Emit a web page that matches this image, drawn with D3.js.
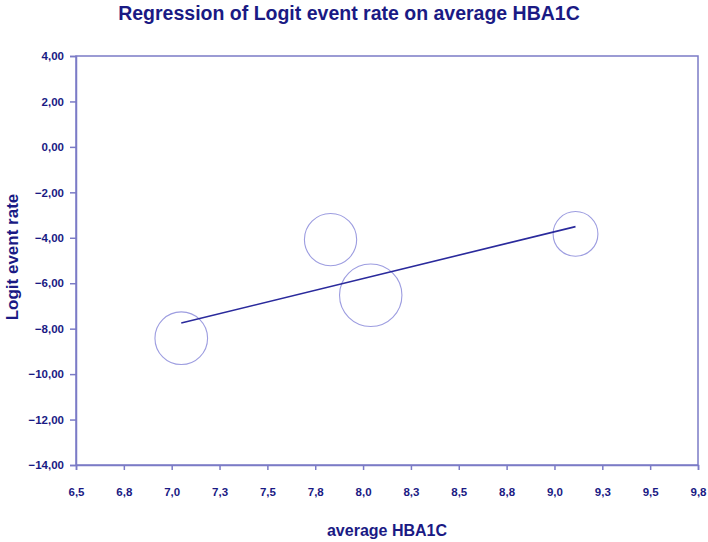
<!DOCTYPE html>
<html><head><meta charset="utf-8">
<script src="https://cdn.jsdelivr.net/npm/d3@7"></script>
<style>
html,body{margin:0;padding:0;background:#fff;}
svg{display:block;}
text{font-family:"Liberation Sans Narrow","Liberation Sans",Arial,sans-serif;font-weight:bold;fill:#1a1a84;}
</style></head>
<body>
<svg id="chart" width="708" height="542"></svg>
<script>
const xTicks = [6.5,6.75,7.0,7.25,7.5,7.75,8.0,8.25,8.5,8.75,9.0,9.25,9.5,9.75];
const yTicks = [4,2,0,-2,-4,-6,-8,-10,-12,-14];
const hba1c = [7.05, 7.83, 8.04, 9.11];
const logitRate = [-8.42, -4.08, -6.53, -3.83];
const weight = [6.9, 6.8, 9.7, 5.0];
const regX = [7.05, 9.11];
const regY = [-7.75, -3.51];

const svg = d3.select("#chart");
const L = 76, R = 698, T = 56, B = 465;
const x = d3.scaleLinear().domain([6.5, 9.75]).range([L, R]);
const y = d3.scaleLinear().domain([-14, 4]).range([B, T]);
const r = d3.scaleSqrt().domain([0, d3.max(weight)]).range([0, 31.2]);
const fmt = v => d3.format(".2f")(v).replace(".", ",");
const fmtX = v => (Math.round(v*10+1e-9)/10).toFixed(1).replace(".", ",");

const axisCol = "#7b7bc6";
svg.append("rect").attr("x", L).attr("y", T).attr("width", R-L).attr("height", B-T)
  .attr("fill", "none").attr("stroke", axisCol).attr("stroke-width", 1.5);

const ya = svg.append("g").attr("transform", `translate(${L},0)`)
  .call(d3.axisLeft(y).tickValues(yTicks).tickFormat(fmt).tickSize(6).tickPadding(6));
const xa = svg.append("g").attr("transform", `translate(0,${B})`)
  .call(d3.axisBottom(x).tickValues(xTicks).tickFormat(fmtX).tickSize(5).tickPadding(18));
[ya, xa].forEach(g => {
  g.select(".domain").attr("stroke", axisCol).attr("stroke-width", 1.5);
  g.selectAll(".tick line").attr("stroke", axisCol).attr("stroke-width", 1.5);
  g.selectAll("text").style("font-size", "11.5px").attr("fill", "#1a1a84")
    .style("font-family", '"Liberation Sans",Arial,sans-serif').style("font-weight", "bold");
});

svg.append("g").selectAll("circle").data(hba1c).join("circle")
  .attr("cx", d => x(d)).attr("cy", (d,i) => y(logitRate[i])).attr("r", (d,i) => r(weight[i]))
  .attr("fill", "none").attr("stroke", "#9d9de0").attr("stroke-width", 1.1);

svg.append("line").attr("x1", x(regX[0])).attr("y1", y(regY[0])).attr("x2", x(regX[1])).attr("y2", y(regY[1]))
  .attr("stroke", "#2a2a9c").attr("stroke-width", 1.6);

svg.append("text").attr("x", 349).attr("y", 19.5).attr("text-anchor", "middle")
  .style("font-size", "19.5px").text("Regression of Logit event rate on average HBA1C");
svg.append("text").attr("x", 387).attr("y", 536).attr("text-anchor", "middle")
  .style("font-size", "16px").text("average HBA1C");
svg.append("text").attr("transform", "translate(18,257) rotate(-90)").attr("text-anchor", "middle")
  .style("font-size", "17px").text("Logit event rate");
</script>
</body></html>
